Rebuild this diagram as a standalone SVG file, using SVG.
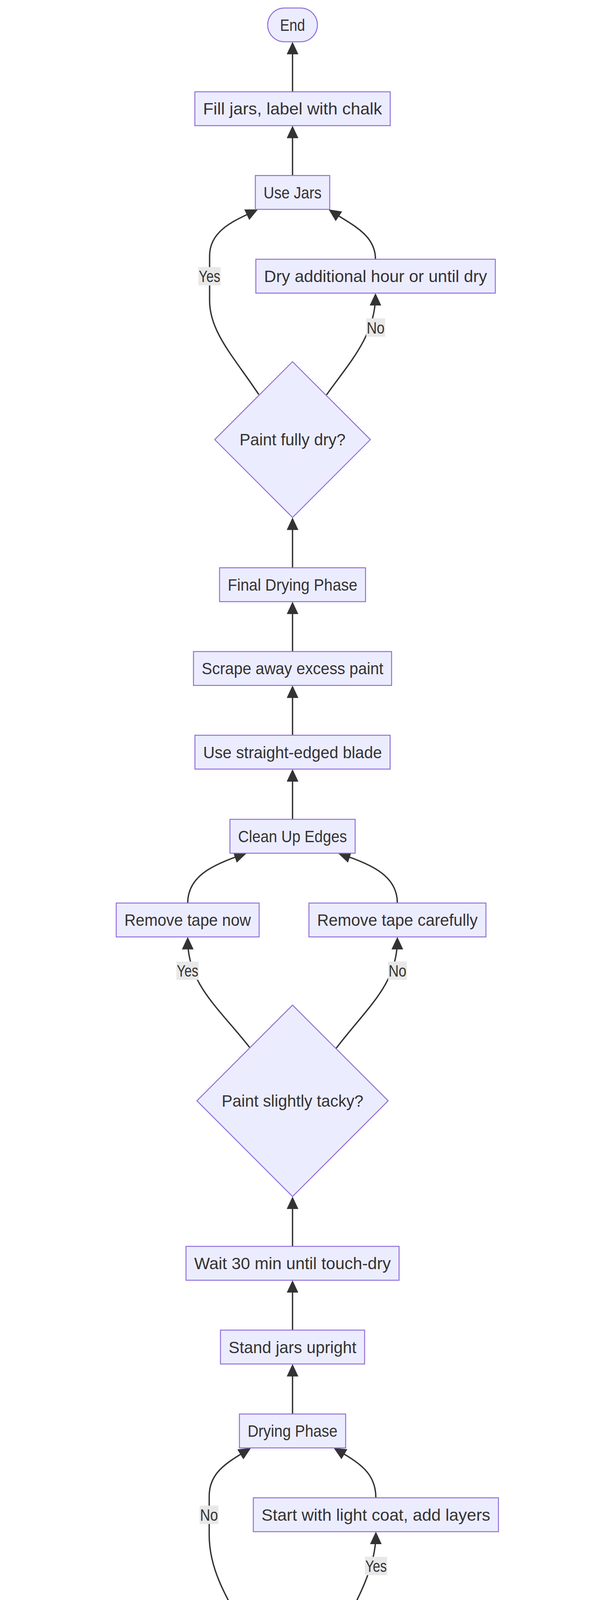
<svg xmlns="http://www.w3.org/2000/svg" width="1568" height="7018" viewBox="0 0 1568 7018">
<style>
.node rect, .node polygon { fill: #ECECFF; stroke: #9370DB; stroke-width: 2.5; }
.node text, .lbl text { font-family: "Liberation Sans", Arial, sans-serif; font-size: 42px; fill: #333333; text-anchor: middle; }
.edge { fill: none; stroke: #333333; stroke-width: 3.5; marker-end: url(#arrow); }
.lbl rect { fill: #e8e8e8; stroke: none; }
</style>
<defs>
<marker id="arrow" viewBox="0 0 10 10" refX="7.5" refY="5" markerUnits="userSpaceOnUse" markerWidth="32" markerHeight="30" orient="auto" preserveAspectRatio="none">
<path d="M0,0 L10,5 L0,10 z" fill="#333333"/>
</marker>
</defs>
<rect x="0" y="0" width="1568" height="7018" fill="#ffffff"/>
<g id="connectors">
<path class="edge" d="M749.5,235 L749.5,115.1"/>
<path class="edge" d="M749.5,449.3 L749.5,329.7"/>
<path class="edge" d="M663,1010 C600,915 537,850 537,770 L537,655 C537,590 600,565 653.8,539.4"/>
<path class="edge" d="M836.5,1011 C890,935 962,860 962,758.4"/>
<path class="edge" d="M962,663.7 C962,600 900,575 848.6,540.5"/>
<path class="edge" d="M749.5,1453.5 L749.5,1332.7"/>
<path class="edge" d="M749.5,1668 L749.5,1548.2"/>
<path class="edge" d="M749.5,1882.2 L749.5,1762.7"/>
<path class="edge" d="M749.5,2097.5 L749.5,1976.9"/>
<path class="edge" d="M481,2311.8 C481,2245 540,2215 624.4,2186.7"/>
<path class="edge" d="M1018,2311.8 C1018,2245 959,2215 873.6,2186.7"/>
<path class="edge" d="M640,2682 C560,2580 481,2520 481,2406.5"/>
<path class="edge" d="M861,2684 C940,2580 1018,2520 1018,2406.5"/>
<path class="edge" d="M749.5,3190.7 L749.5,3071"/>
<path class="edge" d="M749.5,3405.1 L749.5,3285.4"/>
<path class="edge" d="M749.5,3619.9 L749.5,3499.8"/>
<path class="edge" d="M644,4202 C580,4090 536,4020 536,3930 L536,3830 C536,3770 580,3745 636.2,3710.8"/>
<path class="edge" d="M963,3834.4 C963,3770 920,3745 861.9,3710.7"/>
<path class="edge" d="M857.5,4205 C920,4090 963,4010 963,3929.1"/>
<path class="edge" d="M749.5,4815.7 L749.5,4697"/>
<path class="edge" d="M749.5,5030.1 L749.5,4910.4"/>
<path class="edge" d="M749.5,5245 L749.5,5124.8"/>
<path class="edge" d="M339.8,5459.7 C339.8,5390 420,5370 562.2,5333.7"/>
<path class="edge" d="M1159.3,5459.7 C1159.3,5390 1079,5370 936.8,5333.7"/>
<path class="edge" d="M602,5869 L440,5718 C380,5662 339.8,5620 339.8,5554.4"/>
<path class="edge" d="M897,5869 L1059,5718 C1119,5662 1159.3,5620 1159.3,5554.4"/>
<path class="edge" d="M749.5,6408.8 L749.5,6290"/>
<path class="edge" d="M749.5,6623.3 L749.5,6503.5"/>
<path class="edge" d="M749.5,6838 L749.5,6718"/>
<g class="lbl">
<rect x="508.3" y="683.7" width="57" height="47"/><text x="536.8" y="722.2" textLength="55" lengthAdjust="spacingAndGlyphs">Yes</text>
<rect x="938.3" y="815" width="48.2" height="47"/><text x="962.4" y="853.5" textLength="46" lengthAdjust="spacingAndGlyphs">No</text>
<rect x="452" y="2461.5" width="57" height="47"/><text x="480.5" y="2500" textLength="55" lengthAdjust="spacingAndGlyphs">Yes</text>
<rect x="994.3" y="2461.5" width="48.2" height="47"/><text x="1018.4" y="2500" textLength="46" lengthAdjust="spacingAndGlyphs">No</text>
<rect x="511.4" y="3854.5" width="48.2" height="47"/><text x="535.5" y="3893" textLength="46" lengthAdjust="spacingAndGlyphs">No</text>
<rect x="934.9" y="3985.5" width="57" height="47"/><text x="963.4" y="4024" textLength="55" lengthAdjust="spacingAndGlyphs">Yes</text>
<rect x="311" y="5610.7" width="57" height="47"/><text x="339.5" y="5649.2" textLength="55" lengthAdjust="spacingAndGlyphs">Yes</text>
<rect x="1135.3" y="5610.7" width="48.2" height="47"/><text x="1159.4" y="5649.2" textLength="46" lengthAdjust="spacingAndGlyphs">No</text>
</g>
</g>
<g id="End" class="node"><rect x="685.8" y="20.4" width="127.4" height="86.7" rx="43.35" ry="43.35"/><text x="749.5" y="78.8" textLength="64" lengthAdjust="spacingAndGlyphs">End</text></g>
<g id="FillJars" class="node"><rect x="499.2" y="235" width="500.6" height="86.7"/><text x="749.5" y="293.4" textLength="458.6" lengthAdjust="spacingAndGlyphs">Fill jars, label with chalk</text></g>
<g id="UseJars" class="node"><rect x="654.2" y="449.3" width="190.6" height="86.7"/><text x="749.5" y="507.7" textLength="148.6" lengthAdjust="spacingAndGlyphs">Use Jars</text></g>
<g id="DryAdditional" class="node"><rect x="655.5" y="663.7" width="613.5" height="86.7"/><text x="962.25" y="722.1" textLength="571.5" lengthAdjust="spacingAndGlyphs">Dry additional hour or until dry</text></g>
<g id="FullyDry" class="node"><polygon points="749.5,925.9 948.9,1125.3 749.5,1324.7 550.1,1125.3"/><text x="749.5" y="1140.3" textLength="271.7" lengthAdjust="spacingAndGlyphs">Paint fully dry?</text></g>
<g id="FinalDrying" class="node"><rect x="562.5" y="1453.5" width="374" height="86.7"/><text x="749.5" y="1511.9" textLength="332" lengthAdjust="spacingAndGlyphs">Final Drying Phase</text></g>
<g id="Scrape" class="node"><rect x="495.75" y="1668" width="507.5" height="86.7"/><text x="749.5" y="1726.4" textLength="465.5" lengthAdjust="spacingAndGlyphs">Scrape away excess paint</text></g>
<g id="Blade" class="node"><rect x="499.45" y="1882.2" width="500.1" height="86.7"/><text x="749.5" y="1940.6" textLength="458" lengthAdjust="spacingAndGlyphs">Use straight-edged blade</text></g>
<g id="CleanUp" class="node"><rect x="589.1" y="2097.5" width="320.8" height="86.7"/><text x="749.5" y="2155.9" textLength="278.8" lengthAdjust="spacingAndGlyphs">Clean Up Edges</text></g>
<g id="RemoveNow" class="node"><rect x="297.8" y="2311.8" width="366.1" height="86.7"/><text x="480.85" y="2370.2" textLength="324" lengthAdjust="spacingAndGlyphs">Remove tape now</text></g>
<g id="RemoveCarefully" class="node"><rect x="791.5" y="2311.8" width="453.5" height="86.7"/><text x="1018.25" y="2370.2" textLength="411.5" lengthAdjust="spacingAndGlyphs">Remove tape carefully</text></g>
<g id="Tacky" class="node"><polygon points="749.5,2573 994.5,2818 749.5,3063 504.5,2818"/><text x="749.5" y="2833" textLength="363" lengthAdjust="spacingAndGlyphs">Paint slightly tacky?</text></g>
<g id="Wait30" class="node"><rect x="476.55" y="3190.7" width="545.9" height="86.7"/><text x="749.5" y="3249.1" textLength="503.9" lengthAdjust="spacingAndGlyphs">Wait 30 min until touch-dry</text></g>
<g id="StandJars" class="node"><rect x="564.85" y="3405.1" width="369.3" height="86.7"/><text x="749.5" y="3463.5" textLength="327.3" lengthAdjust="spacingAndGlyphs">Stand jars upright</text></g>
<g id="DryingPhase" class="node"><rect x="613.4" y="3619.9" width="272.2" height="86.7"/><text x="749.5" y="3678.3" textLength="230.2" lengthAdjust="spacingAndGlyphs">Drying Phase</text></g>
<g id="LightCoat" class="node"><rect x="649" y="3834.4" width="628" height="86.7"/><text x="963" y="3892.8" textLength="586" lengthAdjust="spacingAndGlyphs">Start with light coat, add layers</text></g>
<g id="TooThick" class="node"><polygon points="749.5,4097 1045.5,4393 749.5,4689 453.5,4393"/><text x="749.5" y="4408" textLength="465.8" lengthAdjust="spacingAndGlyphs">Paint applied too thickly?</text></g>
<g id="Uniform" class="node"><rect x="516.75" y="4815.7" width="465.5" height="86.7"/><text x="749.5" y="4874.1" textLength="423.5" lengthAdjust="spacingAndGlyphs">Ensure uniform coating</text></g>
<g id="ApplyPaint" class="node"><rect x="516.1" y="5030.1" width="466.8" height="86.7"/><text x="749.5" y="5088.5" textLength="424.8" lengthAdjust="spacingAndGlyphs">Apply Chalkboard Paint</text></g>
<g id="MaskOff" class="node"><rect x="519.6" y="5245" width="459.8" height="86.7"/><text x="749.5" y="5303.4" textLength="417.8" lengthAdjust="spacingAndGlyphs">Mask off area for paint</text></g>
<g id="Circular" class="node"><rect x="19.9" y="5459.7" width="639.8" height="86.7"/><text x="339.8" y="5518.1" textLength="597.8" lengthAdjust="spacingAndGlyphs">Create circular/abstract pattern</text></g>
<g id="Rectangular" class="node"><rect x="786.9" y="5459.7" width="744.9" height="86.7"/><text x="1159.35" y="5518.1" textLength="702.9" lengthAdjust="spacingAndGlyphs">Create rectangular/geometric pattern</text></g>
<g id="Creative" class="node"><polygon points="749.5,5722 1029.5,6002 749.5,6282 469.5,6002"/><text x="749.5" y="6017" textLength="430" lengthAdjust="spacingAndGlyphs">Desired shape creative?</text></g>
<g id="PrepareJars" class="node"><rect x="578.6" y="6408.8" width="341.8" height="86.7"/><text x="749.5" y="6467.2" textLength="299.8" lengthAdjust="spacingAndGlyphs">Prepare the Jars</text></g>
<g id="Gather" class="node"><rect x="576.55" y="6623.3" width="345.9" height="86.7"/><text x="749.5" y="6681.7" textLength="303.9" lengthAdjust="spacingAndGlyphs">Gather Materials</text></g>
<g id="Start" class="node"><rect x="674.5" y="6838" width="150" height="86.7" rx="43.35" ry="43.35"/><text x="749.5" y="6896.4" textLength="87" lengthAdjust="spacingAndGlyphs">Start</text></g>
</svg>
